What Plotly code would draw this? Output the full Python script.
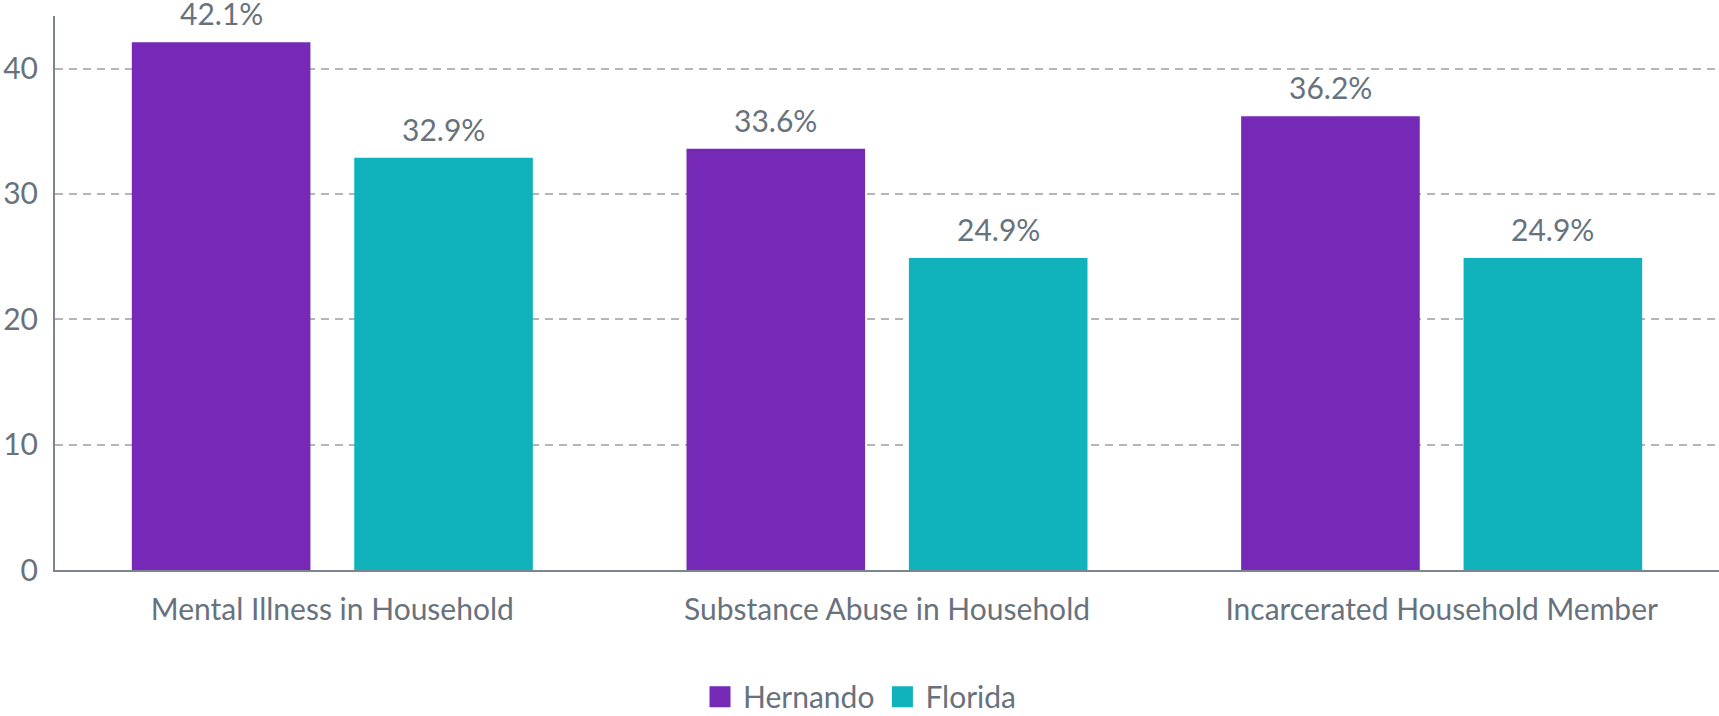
import plotly.graph_objects as go

categories = ["Mental Illness in Household", "Substance Abuse in Household", "Incarcerated Household Member"]
hernando = [42.1, 33.6, 36.2]
florida = [32.9, 24.9, 24.9]
series_names = ["Hernando", "Florida"]
y_ticks = [0, 10, 20, 30, 40]

PURPLE = "#7629b7"
TEAL = "#10b3bc"
TEXT = "#68727d"
FONT = "Lato"
FS = 30

BARGAP = 0.198
GROUPGAP = 0.197

fig = go.Figure()
for name, vals, col in [(series_names[0], hernando, PURPLE), (series_names[1], florida, TEAL)]:
    fig.add_trace(go.Bar(x=categories, y=vals, name=name, marker=dict(color=col, line=dict(width=0)),
                         showlegend=False, hoverinfo="x+y"))
    fig.add_trace(go.Scatter(x=[None], y=[None], mode="markers", name=name,
                             marker=dict(symbol="square", size=16, color=col,
                                         line=dict(color=col, width=5)),
                             showlegend=True))

# value labels above each bar (positions derived from data index and bar layout)
slot = (1 - BARGAP) / 2
for si, vals in enumerate([hernando, florida]):
    off = (si - 0.5) * slot
    for ci, v in enumerate(vals):
        fig.add_annotation(x=ci + off, y=v, xref="x", yref="y", text=f"{v:.1f}%",
                           showarrow=False, yanchor="bottom", yshift=9,
                           font=dict(family=FONT, size=FS, color=TEXT))

fig.update_layout(
    width=1719, height=716,
    margin=dict(l=55, r=0, t=16, b=146),
    paper_bgcolor="white", plot_bgcolor="white",
    barmode="group", bargap=BARGAP, bargroupgap=GROUPGAP,
    font=dict(family=FONT, size=FS, color=TEXT),
    legend=dict(orientation="h", xref="container", yref="container", x=0.5, xanchor="center",
                y=0.027, yanchor="middle", font=dict(family=FONT, size=FS, color=TEXT),
                itemsizing="trace", itemwidth=36),
    showlegend=True,
)
fig.update_xaxes(showline=True, linecolor="#7c848d", linewidth=2, showgrid=False,
                 ticks="", ticklabelstandoff=12, tickfont=dict(family=FONT, size=FS, color=TEXT))
fig.update_yaxes(range=[0, 44.2], tickvals=y_ticks, showline=True, linecolor="#7c848d", linewidth=2,
                 showgrid=True, gridcolor="#b3b5b9", gridwidth=1.8, griddash="8px,6px",
                 zeroline=False, ticks="", ticklabelstandoff=9,
                 tickfont=dict(family=FONT, size=FS, color=TEXT))

fig.write_html("out.html", config={"displayModeBar": False},
               post_script="document.body.style.margin='0px';document.body.style.overflow='hidden';")
